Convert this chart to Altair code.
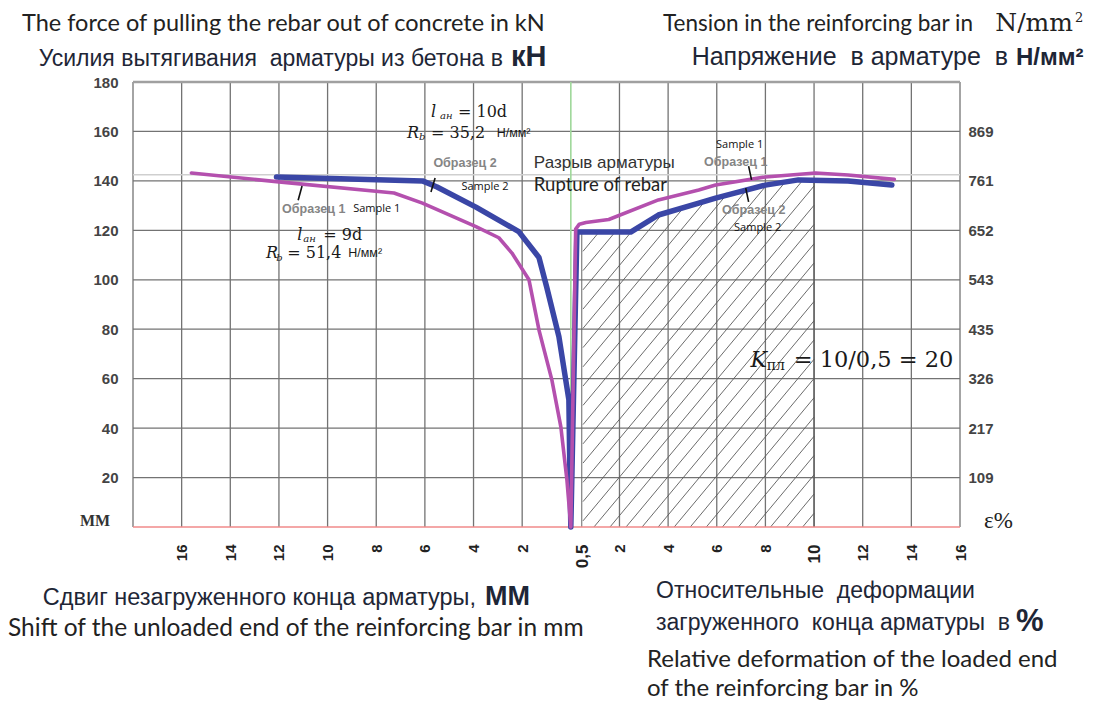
import altair as alt
import pandas as pd
import numpy as np

# ---------------- data ----------------
# x position: negative = slip of unloaded end in mm (left half), positive = strain in % (right half)
s1_left_u = [-15.6, -12.0, -7.27, -6.1, -3.9, -2.96, -2.42, -1.72, -1.31, -0.78, -0.41, -0.16, 0.0]
s1_left_kN = [143.2, 139.6, 135.1, 131.0, 121.5, 117.0, 110.8, 100.0, 79.7, 59.5, 40.5, 19.0, 0.0]
s1_right_u = [0.2, 0.35, 0.62, 1.56, 3.6, 5.26, 5.95, 8.0, 10.06, 11.4, 13.3]
s1_right_kN = [120.5, 122.5, 123.2, 124.4, 132.3, 136.3, 138.3, 141.6, 143.2, 142.4, 140.6]

s2_left_u = [-12.1, -6.1, -5.5, -3.9, -2.14, -1.31, -0.99, -0.49, -0.08, -0.04, 0.0]
s2_left_kN = [141.6, 140.0, 137.5, 129.4, 119.5, 109.0, 97.0, 77.0, 51.4, 23.0, 0.0]
s2_right_u = [0.25, 2.46, 3.6, 5.26, 5.95, 8.0, 9.36, 11.4, 13.2]
s2_right_kN = [119.3, 119.3, 126.2, 131.0, 133.0, 138.3, 140.4, 140.0, 138.3]

mm_ticks = [16, 14, 12, 10, 8, 6, 4, 2]
pct_ticks = [0.5, 2, 4, 6, 8, 10, 12, 14, 16]
kN_ticks = [20, 40, 60, 80, 100, 120, 140, 160, 180]
stress_labels = ["109", "217", "326", "435", "543", "652", "761", "869"]
rupture_kN = 142.5
hatch_from, hatch_to = 0.5, 10

# ---------------- geometry ----------------
W, H = 827, 445
OX, OY = 133, 82   # plot origin on the page
xs = alt.Scale(domain=[-18, 16], nice=False, zero=False)
ys = alt.Scale(domain=[0, 180], nice=False, zero=False)

one = pd.DataFrame({"a": [0]})

def X(ax=None):
    return alt.X("u:Q", scale=xs, axis=ax)

def Y(ax=None):
    return alt.Y("kN:Q", scale=ys, axis=ax)

SANS = "Liberation Sans"
ENG = "Lato"
SER = "DejaVu Serif"
RUS_C = "#1e2636"
NB = "\u00a0"

def ptext(txt, x, y, size, font=SANS, color="#222", weight="normal", align="left", style="normal"):
    return alt.Chart(one).mark_text(
        text=txt, x=x - OX, y=y - OY, fontSize=size, font=font, color=color,
        fontWeight=weight, align=align, baseline="alphabetic", fontStyle=style)

def dtext(txt, u, k, size, font=SANS, color="#222", weight="normal", align="left", style="normal"):
    df = pd.DataFrame({"u": [u], "kN": [k]})
    return alt.Chart(df).mark_text(
        text=txt, fontSize=size, font=font, color=color, fontWeight=weight,
        align=align, baseline="middle", fontStyle=style).encode(x=X(), y=Y())

layers = []

# ---------------- grid ----------------
vgrid = pd.DataFrame({"u": [-18, -16, -14, -12, -10, -8, -6, -4, -2, 2, 4, 6, 8, 10, 12, 14, 16]})
layers.append(alt.Chart(vgrid).mark_rule(color="#737373", strokeWidth=1.3).encode(x=X()))
hgrid = pd.DataFrame({"kN": kN_ticks[:-1]})
layers.append(alt.Chart(hgrid).mark_rule(color="#737373", strokeWidth=1.3).encode(y=Y()))
layers.append(alt.Chart(pd.DataFrame({"kN": [180]})).mark_rule(color="#a0a0a0", strokeWidth=2.5).encode(y=Y()))
layers.append(alt.Chart(pd.DataFrame({"kN": [rupture_kN]})).mark_rule(color="#cfcfcf", strokeWidth=1.5).encode(y=Y()))
layers.append(alt.Chart(pd.DataFrame({"u": [0]})).mark_rule(color="#9fd89a", strokeWidth=1.6).encode(x=X()))

# ---------------- hatch under sample 2 (right half) ----------------
bu = np.array(s2_right_u)
bk = np.array(s2_right_kN)
m = 11.8      # kN per % along a hatch line
step = 0.66
rows = []
for c in np.arange(hatch_from - np.interp(hatch_from, bu, bk) / m, hatch_to, step):
    u0 = max(c, hatch_from)
    k0 = m * (u0 - c)
    if k0 >= np.interp(u0, bu, bk):
        continue
    ug = np.linspace(u0, hatch_to, 3000)
    diff = m * (ug - c) - np.interp(ug, bu, bk)
    idx = np.argmax(diff >= 0) if np.any(diff >= 0) else len(ug) - 1
    u1 = ug[idx]
    rows.append({"u": u0, "kN": k0, "u2": u1, "kN2": m * (u1 - c)})
hatch = pd.DataFrame(rows)
layers.append(alt.Chart(hatch).mark_rule(color="#5a5a5a", strokeWidth=0.9).encode(
    x=X(), y=Y(), x2="u2:Q", y2="kN2:Q"))
edge = pd.DataFrame({"u": [hatch_from - 0.05], "kN": [0], "kN2": [float(np.interp(hatch_from, bu, bk))]})
layers.append(alt.Chart(edge).mark_rule(color="#666666", strokeWidth=1).encode(x=X(), y=Y(), y2="kN2:Q"))
layers.append(alt.Chart(pd.DataFrame({"u": [hatch_to], "kN": [0], "kN2": [float(np.interp(hatch_to, bu, bk))]}))
              .mark_rule(color="#555555", strokeWidth=1.2).encode(x=X(), y=Y(), y2="kN2:Q"))

# zero line
layers.append(alt.Chart(pd.DataFrame({"kN": [0]})).mark_rule(color="#f08a8a", strokeWidth=1.6).encode(y=Y()))

# ---------------- curves ----------------
def curve(lu, lk, ru, rk):
    u = lu + ru
    k = lk + rk
    return pd.DataFrame({"u": u, "kN": k, "i": list(range(len(u)))})

c2 = curve(s2_left_u, s2_left_kN, s2_right_u, s2_right_kN)
c1 = curve(s1_left_u, s1_left_kN, s1_right_u, s1_right_kN)
layers.append(alt.Chart(c2).mark_line(color="#3a46a6", strokeWidth=5.5, strokeJoin="round", strokeCap="round")
              .encode(x=X(), y=Y(), order="i:Q"))
layers.append(alt.Chart(c1).mark_line(color="#b450ae", strokeWidth=3.6, strokeJoin="round", strokeCap="round")
              .encode(x=X(), y=Y(), order="i:Q"))

# leader ticks
lead = pd.DataFrame({
    "u": [-5.58, -11.05, 7.31, 7.19], "kN": [141.2, 137.9, 146.0, 137.1],
    "u2": [-5.75, -11.21, 7.43, 7.31], "kN2": [135.5, 132.2, 140.4, 131.5]})
layers.append(alt.Chart(lead).mark_rule(color="#111", strokeWidth=1.6).encode(x=X(), y=Y(), x2="u2:Q", y2="kN2:Q"))

# ---------------- axes ----------------
axis_df = pd.DataFrame({"u": [-18, 16], "kN": [0, 180]})
x_vals = [-t for t in mm_ticks] + pct_ticks
x_axis = alt.Axis(values=x_vals, grid=False, ticks=False, domain=False, labelAngle=270,
                  labelExpr="datum.value < 0 ? format(-datum.value, 'd') : (datum.value == 0.5 ? '0,5' : format(datum.value, 'd'))",
                  labelFont=SANS, labelFontWeight="bold", labelColor="#222",
                  labelFontSize={"condition": {"test": "datum.value == 10 || datum.value == 0.5", "value": 17}, "value": 15},
                  labelOverlap=False, labelPadding=17, title=None, orient="bottom")
yl_axis = alt.Axis(values=kN_ticks, grid=False, ticks=False, domain=False, orient="left",
                   labelFont=SANS, labelFontSize=15, labelFontWeight="bold", labelColor="#444",
                   labelPadding=15, title=None)
stress_js = "[" + ",".join("'" + s + "'" for s in stress_labels) + "]"
yr_axis = alt.Axis(values=kN_ticks[:-1], grid=False, ticks=False, domain=False, orient="right",
                   labelExpr=stress_js + "[round(datum.value / 20) - 1]",
                   labelFont=SANS, labelFontSize=15, labelFontWeight="bold", labelColor="#444",
                   labelPadding=8, title=None)
layers.append(alt.Chart(axis_df).mark_point(opacity=0).encode(x=X(x_axis), y=Y(yl_axis)))
layers.append(alt.Chart(axis_df).mark_point(opacity=0).encode(x=X(), y=Y(yr_axis)))

# ---------------- in-plot annotations ----------------
GRAY = "#858585"
INK = "#1a1a1a"
layers += [
    dtext("Образец 2", -4.35, 147.2, 12.5, weight="bold", color=GRAY, align="center"),
    dtext("Sample 2", -3.53, 137.5, 11, font="Open Sans", color="#111", align="center"),
    dtext("Разрыв арматуры", -1.52, 147.2, 17, color="#333"),
    dtext("Rupture of rebar", -1.52, 138.3, 18.5, font=ENG, color="#222"),
    dtext("Образец 1", -11.87, 128.6, 12.5, weight="bold", color=GRAY),
    dtext("Sample 1", -8.95, 128.6, 11, font="Open Sans", color="#111"),
    dtext("Sample 1", 6.94, 154.5, 11, font="Open Sans", color="#111", align="center"),
    dtext("Образец 1", 6.78, 147.7, 12.5, weight="bold", color=GRAY, align="center"),
    dtext("Образец 2", 7.52, 128.2, 12.5, weight="bold", color=GRAY, align="center"),
    dtext("Sample 2", 7.68, 121.0, 11, font="Open Sans", color="#111", align="center"),
    # l_an = 10d ; R_b = 35,2
    dtext("l", -5.75, 167.9, 16, font=SER, style="italic", color=INK),
    dtext("ан", -5.38, 166.2, 10, font=SER, style="italic", color=INK),
    dtext("= 10d", -4.64, 167.9, 16, font=SER, color=INK),
    dtext("R", -6.74, 159.4, 16, font=SER, style="italic", color=INK),
    dtext("b", -6.24, 157.6, 10, font=SER, style="italic", color=INK),
    dtext("= 35,2", -5.75, 159.4, 16, font=SER, color=INK),
    dtext("Н/мм²", -3.05, 159.4, 12.5, color=INK),
    # l_an = 9d ; R_b = 51,4
    dtext("l", -11.25, 118.1, 16, font=SER, style="italic", color=INK),
    dtext("ан", -11.0, 116.4, 10, font=SER, style="italic", color=INK),
    dtext("= 9d", -10.18, 118.1, 16, font=SER, color=INK),
    dtext("R", -12.53, 110.8, 16, font=SER, style="italic", color=INK),
    dtext("b", -12.11, 109.0, 10, font=SER, style="italic", color=INK),
    dtext("= 51,4", -11.66, 110.8, 16, font=SER, color=INK),
    dtext("Н/мм²", -9.15, 110.8, 12.5, color=INK),
    # K_pl
    dtext("K", 7.39, 67.6, 22, font=SER, style="italic", color=INK),
    dtext("пл", 8.05, 65.0, 14, font=SER, color=INK),
    dtext("= 10/0,5 = 20", 9.16, 67.6, 22.5, font=SER, color=INK),
]

# ---------------- outer titles (page positions, baselines) ----------------
layers += [
    ptext("The force of pulling the rebar out of concrete in kN", 22, 31, 23.5, font=ENG, color="#222"),
    ptext("Усилия вытягивания" + NB + " арматуры из бетона в", 503, 66, 23, color=RUS_C, align="right"),
    ptext("кН", 511, 66, 29, weight="bold", color=RUS_C),
    ptext("Tension in the reinforcing bar in", 973, 31, 22.5, font=ENG, color="#222", align="right"),
    ptext("N/mm", 1073, 31, 25, font=SER, color="#222", align="right"),
    ptext("2", 1075, 22, 13, font=SER, color="#222"),
    ptext("Напряжение" + NB + " в арматуре" + NB + " в", 1008, 65, 25, color=RUS_C, align="right"),
    ptext("Н/мм²", 1016, 65, 24, weight="bold", color=RUS_C),
    ptext("ММ", 95, 526, 16, font="Liberation Serif", weight="bold", color="#333", align="center"),
    ptext("ε%", 984, 528, 23, font="Liberation Serif", color="#222"),
    ptext("Сдвиг незагруженного конца арматуры,", 476, 605, 23.5, color=RUS_C, align="right"),
    ptext("ММ", 485, 605, 27, weight="bold", color=RUS_C),
    ptext("Shift of the unloaded end of the reinforcing bar in mm", 8, 636, 24.5, font=ENG, color="#222"),
    ptext("Относительные" + NB + " деформации", 656, 598, 23, color=RUS_C),
    ptext("загруженного" + NB + " конца арматуры" + NB + " в", 1010, 630, 23, color=RUS_C, align="right"),
    ptext("%", 1016, 631, 31, weight="bold", color=RUS_C),
    ptext("Relative deformation of the loaded end", 647, 667, 24, font=ENG, color="#222"),
    ptext("of the reinforcing bar in %", 647, 696, 24, font=ENG, color="#222"),
]

chart = alt.layer(*layers).resolve_axis(x="independent", y="independent").properties(
    width=W, height=H,
    autosize=alt.AutoSizeParams(type="none"),
    padding={"left": OX - 8, "top": OY - 8, "right": 1077 - (OX - 8) - W, "bottom": 695 - (OY - 8) - H},
    background="white",
).configure_view(stroke=None)

chart.save("out.html", embed_options={"renderer": "svg", "actions": False})
